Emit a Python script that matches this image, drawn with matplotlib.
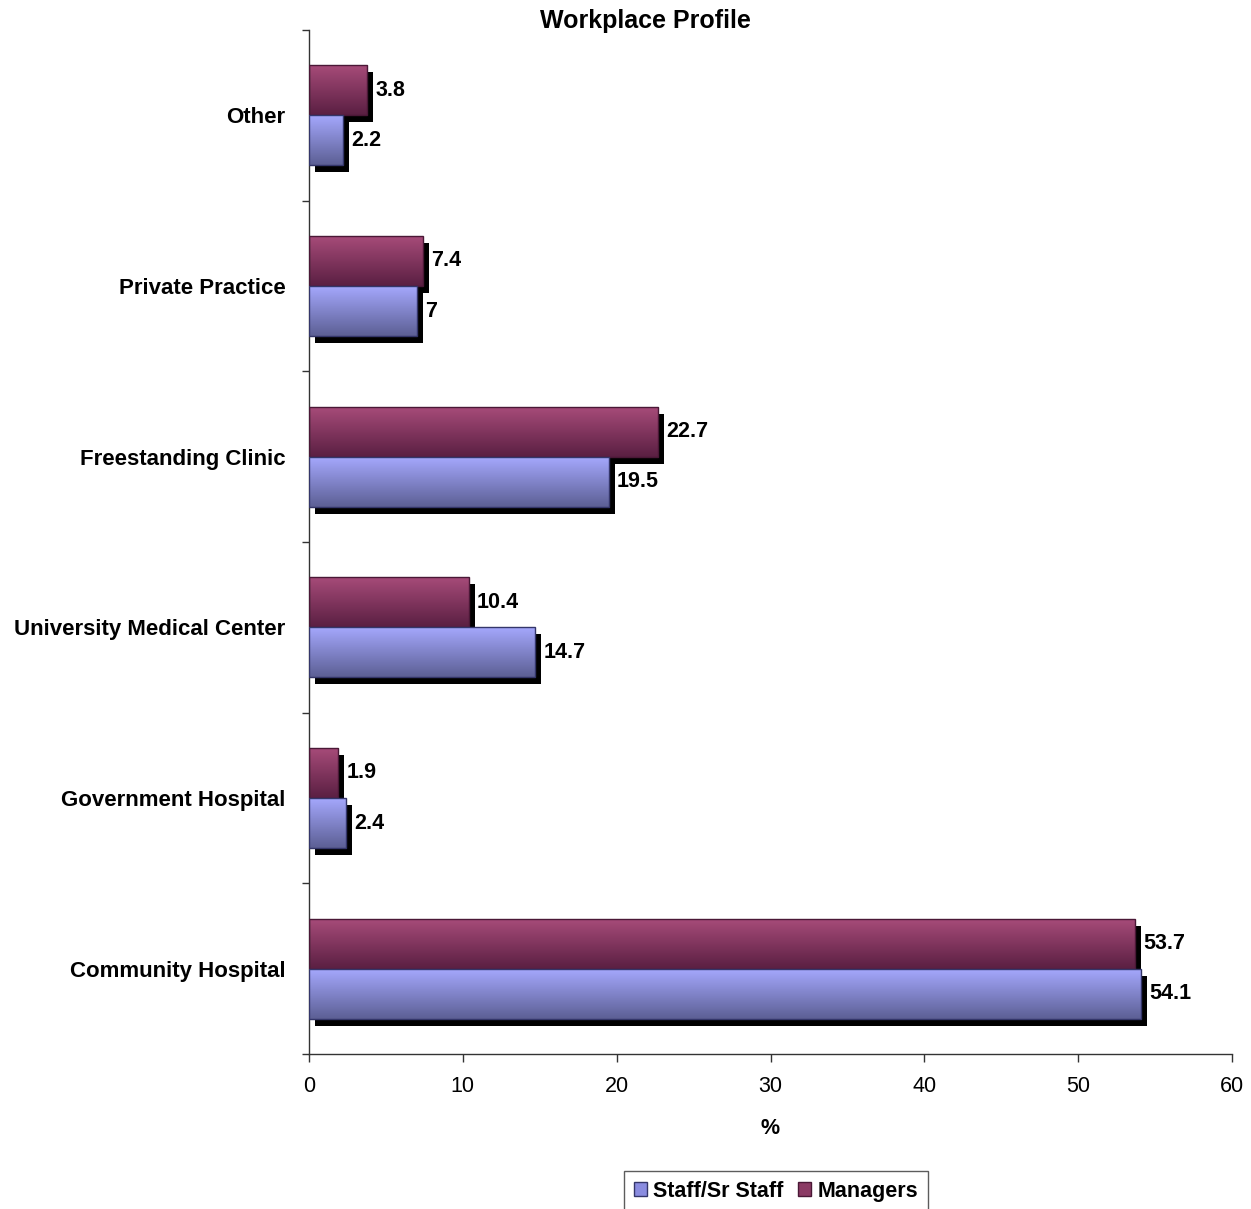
import numpy as np
import matplotlib
matplotlib.use("Agg")
import matplotlib.pyplot as plt
from matplotlib.colors import LinearSegmentedColormap
from matplotlib.patches import Patch
from matplotlib.transforms import ScaledTranslation

plt.rcParams['font.family'] = ['Liberation Sans', 'DejaVu Sans']

categories = ["Community Hospital", "Government Hospital", "University Medical Center",
              "Freestanding Clinic", "Private Practice", "Other"]
staff = [54.1, 2.4, 14.7, 19.5, 7, 2.2]
managers = [53.7, 1.9, 10.4, 22.7, 7.4, 3.8]
staff_labels = ["54.1", "2.4", "14.7", "19.5", "7", "2.2"]
manager_labels = ["53.7", "1.9", "10.4", "22.7", "7.4", "3.8"]
x_ticks = [0, 10, 20, 30, 40, 50, 60]

fig = plt.figure(figsize=(12.51, 12.09), dpi=100)
ax = fig.add_axes([309 / 1251, 1 - 1054 / 1209, (1232 - 309) / 1251, (1054 - 30) / 1209])

bar_h = 0.293
y = np.arange(len(categories))
y_mgr = y + bar_h / 2
y_staff = y - bar_h / 2

# drop shadow offset (right and down) in display space
shadow_tr = ax.transData + ScaledTranslation(6 / 100, -7 / 100, fig.dpi_scale_trans)
ax.barh(y_mgr, managers, height=bar_h, color='black', transform=shadow_tr, zorder=1)
ax.barh(y_staff, staff, height=bar_h, color='black', transform=shadow_tr, zorder=1)

mgr_cmap = LinearSegmentedColormap.from_list("mgr", ["#5a1f42", "#a84c7a"])
staff_cmap = LinearSegmentedColormap.from_list("stf", ["#5c5f94", "#a6a9ff"])
grad = np.linspace(0, 1, 256).reshape(-1, 1)


def gradient_bars(ypos, vals, cmap, edge, z):
    bars = ax.barh(ypos, vals, height=bar_h, facecolor='none', edgecolor=edge,
                   linewidth=1.0, zorder=z + 1)
    for b in bars:
        x0, y0 = b.get_x(), b.get_y()
        w, h = b.get_width(), b.get_height()
        im = ax.imshow(grad, cmap=cmap, aspect='auto', origin='lower',
                       extent=(x0, x0 + w, y0, y0 + h), zorder=z,
                       interpolation='bilinear')
        im.set_clip_path(b)
    return bars


gradient_bars(y_mgr, managers, mgr_cmap, "#4a1836", 2)
gradient_bars(y_staff, staff, staff_cmap, "#34366a", 4)

lab_off = ScaledTranslation(8 / 100, 0, fig.dpi_scale_trans)
for yy, v, s in zip(y_mgr, managers, manager_labels):
    ax.text(v, yy, s, transform=ax.transData + lab_off, ha='left', va='center',
            fontsize=15.5, fontweight='bold', zorder=6)
for yy, v, s in zip(y_staff, staff, staff_labels):
    ax.text(v, yy, s, transform=ax.transData + lab_off, ha='left', va='center',
            fontsize=15.5, fontweight='bold', zorder=6)

ax.set_xlim(0, 60)
ax.set_ylim(-0.5, len(categories) - 0.5)
ax.set_xticks(x_ticks)
ax.set_xticklabels([str(t) for t in x_ticks], fontsize=15.5)
ax.tick_params(axis='x', direction='out', length=6, width=1, color='#333333', pad=10)

ax.set_yticks(y)
ax.set_yticklabels(categories, fontsize=16, fontweight='bold')
ax.tick_params(axis='y', which='major', length=0, pad=17)
ax.set_yticks(np.arange(-0.5, len(categories), 1.0), minor=True)
ax.tick_params(axis='y', which='minor', direction='out', length=5, width=1, color='#333333')

for side in ('top', 'right'):
    ax.spines[side].set_visible(False)
for side in ('left', 'bottom'):
    ax.spines[side].set_color('#333333')
    ax.spines[side].set_linewidth(1)

ax.set_xlabel('%', fontsize=15.5, fontweight='bold', labelpad=15)

fig.text(645 / 1251, 1 - 21 / 1209, "Workplace Profile", ha='center', va='center',
         fontsize=18, fontweight='bold')

handles = [Patch(facecolor="#8a8ce0", edgecolor="#34366a", label="Staff/Sr Staff"),
           Patch(facecolor="#8b3a64", edgecolor="#4a1836", label="Managers")]
fig.legend(handles=handles, loc='upper center', bbox_to_anchor=(776 / 1251, 1 - 1171 / 1209),
           ncol=2, frameon=True, fancybox=False, edgecolor='#333333',
           prop={'size': 15.5, 'weight': 'bold'}, handlelength=0.6, handleheight=0.6,
           handletextpad=0.3, columnspacing=0.7, borderpad=0.45, borderaxespad=0)

fig.savefig("out.png", dpi=100)
